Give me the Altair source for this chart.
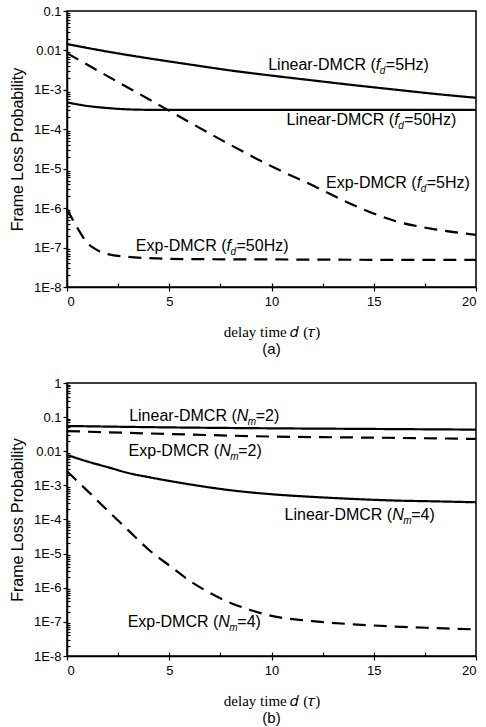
import altair as alt
import pandas as pd

# ---------------- data ----------------
# panel (a)
a_lin5_x = [0, 2, 4, 6, 8, 10, 12, 14, 16, 18, 20]
a_lin5_y = [0.0145, 9.3e-3, 6.3e-3, 4.4e-3, 3.1e-3, 2.3e-3, 1.74e-3, 1.32e-3, 1.02e-3, 7.9e-4, 6.3e-4]

a_lin50_x = [0, 1, 2, 3, 4, 6, 10, 15, 20]
a_lin50_y = [4.8e-4, 3.9e-4, 3.45e-4, 3.2e-4, 3.12e-4, 3.1e-4, 3.1e-4, 3.1e-4, 3.1e-4]

a_exp5_x = [0, 2, 4, 6, 8, 10, 12, 14, 16, 18, 20]
a_exp5_y = [8.5e-3, 2.2e-3, 5.8e-4, 1.5e-4, 4e-5, 1.15e-5, 3.8e-6, 1.2e-6, 4.8e-7, 2.9e-7, 2.1e-7]

a_exp50_x = [0, 0.5, 1, 1.5, 2, 3, 4, 6, 10, 15, 20]
a_exp50_y = [9.5e-7, 3.2e-7, 1.3e-7, 8.5e-8, 6.8e-8, 5.8e-8, 5.4e-8, 5.1e-8, 5.0e-8, 4.9e-8, 4.9e-8]

# panel (b)
b_lin2_x = [0, 5, 10, 15, 20]
b_lin2_y = [0.055, 0.05, 0.047, 0.045, 0.043]

b_exp2_x = [0, 5, 10, 15, 20]
b_exp2_y = [0.039, 0.032, 0.027, 0.025, 0.023]

b_lin4_x = [0, 1, 2, 3, 4, 5, 6, 8, 10, 12, 14, 16, 18, 20]
b_lin4_y = [7.8e-3, 5.0e-3, 3.4e-3, 2.3e-3, 1.74e-3, 1.35e-3, 1.07e-3, 7.2e-4, 5.5e-4,
            4.6e-4, 4.0e-4, 3.6e-4, 3.4e-4, 3.2e-4]

b_exp4_x = [0, 1, 2, 3, 4, 5, 6, 7, 8, 9, 10, 12, 14, 16, 18, 20]
b_exp4_y = [2.6e-3, 6.9e-4, 1.8e-4, 4.8e-5, 1.3e-5, 4.5e-6, 1.6e-6, 7e-7, 3.6e-7, 2.2e-7,
            1.5e-7, 1.05e-7, 8.5e-8, 7.3e-8, 6.6e-8, 6e-8]

# labels: anchor (where the italic variable starts), text pieces
a_lab_x = [15.1, 16.0, 17.1, 7.8]
a_lab_y = [3.2e-3, 1.3e-4, 3.2e-6, 8.1e-8]
a_lab_pre = ["Linear-DMCR (", "Linear-DMCR (", "Exp-DMCR (", "Exp-DMCR ("]
a_lab_post = ["=5Hz)", "=50Hz)", "=5Hz)", "=50Hz)"]

b_lab_x = [8.3, 7.44, 15.9, 7.4]
b_lab_y = [0.075, 7.2e-3, 9.6e-5, 6.9e-8]
b_lab_pre = ["Linear-DMCR (", "Exp-DMCR (", "Linear-DMCR (", "Exp-DMCR ("]
b_lab_post = ["=2)", "=2)", "=4)", "=4)"]

x_ticks = [0, 5, 10, 15, 20]
x_minor = [2.5, 5, 7.5, 10, 12.5, 15, 17.5]

W, HA, HB = 409, 276, 273
SANS = "Liberation Sans"
SERIF = "Liberation Serif"


def series_df(items):
    rows = []
    for name, kind, xs, ys in items:
        for xv, yv in zip(xs, ys):
            rows.append({"series": name, "kind": kind, "x": xv, "y": yv})
    return pd.DataFrame(rows)


def panel(items, lab_x, lab_y, pre, post, var, sub, sub_dx, post_dx, top_exp, H, caption):
    df = series_df(items)
    ldf = pd.DataFrame({"x": lab_x, "y": lab_y, "pre": pre, "post": post,
                        "var": [var] * len(lab_x), "sub": [sub] * len(lab_x)})
    ydom = [1e-8, 10.0 ** top_exp]
    ymajor = [10.0 ** k for k in range(top_exp, -9, -1)]
    yminor = [m * 10.0 ** k for k in range(top_exp - 1, -9, -1) for m in range(2, 10)]
    xs = alt.Scale(domain=[0, 20], nice=False)
    ys = alt.Scale(type="log", domain=ydom, nice=False)

    lines = alt.Chart(df).mark_line(color="black", strokeWidth=2.2, interpolate="monotone").encode(
        x=alt.X("x:Q", scale=xs, axis=alt.Axis(
            values=x_ticks, title="delay time 𝑑 (𝜏)", titleFont=SERIF, titleFontSize=15,
            titleFontWeight="normal", titlePadding=16, labelFontSize=13, labelFont=SANS,
            tickSize=4, labelPadding=4, grid=False)),
        y=alt.Y("y:Q", scale=ys, axis=alt.Axis(
            values=ymajor, title="Frame Loss Probability", titleFont=SANS, titleFontSize=16,
            titleFontWeight="normal", titlePadding=8, labelFontSize=13, labelFont=SANS,
            tickSize=4, labelPadding=2, grid=False,
            labelExpr="datum.value >= 0.01 ? toString(datum.value) : '1E' + round(log(datum.value)/LN10)")),
        detail="series:N",
        strokeDash=alt.StrokeDash("kind:N", scale=alt.Scale(domain=["solid", "dashed"],
                                                            range=[[1, 0], [13, 8]]), legend=None),
    )

    minor = alt.Chart(df).mark_line(opacity=0).encode(
        x=alt.X("x:Q", scale=xs, axis=alt.Axis(orient="top", offset=-H, values=x_minor, labels=False,
                                               domain=False, tickSize=4, title=None, grid=False)),
        y=alt.Y("y:Q", scale=ys, axis=alt.Axis(orient="right", offset=-W, values=yminor, labels=False,
                                               domain=False, tickSize=3, title=None, grid=False)),
        detail="series:N",
    )

    def txt(field, **kw):
        return alt.Chart(ldf).mark_text(color="black", baseline="alphabetic", font=SANS, **kw).encode(
            x=alt.X("x:Q", scale=xs, axis=None),
            y=alt.Y("y:Q", scale=ys, axis=None),
            text=f"{field}:N",
        )

    t_pre = txt("pre", align="right", fontSize=16)
    t_var = txt("var", align="left", fontSize=16, fontStyle="italic")
    t_sub = txt("sub", align="left", fontSize=10, fontStyle="italic", dx=sub_dx, dy=4)
    t_post = txt("post", align="left", fontSize=16, dx=post_dx)

    return alt.layer(lines, minor, t_pre, t_var, t_sub, t_post).resolve_axis(
        x="independent", y="independent"
    ).properties(
        width=W, height=H,
        title=alt.TitleParams(caption, orient="bottom", font=SANS, fontSize=15,
                              fontWeight="normal", offset=3),
    )


pa = panel([
    ("lin5", "solid", a_lin5_x, a_lin5_y),
    ("lin50", "solid", a_lin50_x, a_lin50_y),
    ("exp5", "dashed", a_exp5_x, a_exp5_y),
    ("exp50", "dashed", a_exp50_x, a_exp50_y),
], a_lab_x, a_lab_y, a_lab_pre, a_lab_post, "f", "d", 4, 10, -1, HA, "(a)")

pb = panel([
    ("lin2", "solid", b_lin2_x, b_lin2_y),
    ("exp2", "dashed", b_exp2_x, b_exp2_y),
    ("lin4", "solid", b_lin4_x, b_lin4_y),
    ("exp4", "dashed", b_exp4_x, b_exp4_y),
], b_lab_x, b_lab_y, b_lab_pre, b_lab_post, "N", "m", 11, 19, 0, HB, "(b)")

chart = alt.vconcat(pa, pb, spacing=18).properties(
    padding={"left": 8, "top": 4, "right": 0, "bottom": 2},
    background="white",
).configure_view(stroke="black", strokeWidth=1.5).configure_axis(
    domainColor="black", domainWidth=1.5, tickColor="black", tickWidth=1.2,
    labelColor="black", titleColor="black",
)

chart.save("out.html", embed_options={"renderer": "svg", "actions": False})
